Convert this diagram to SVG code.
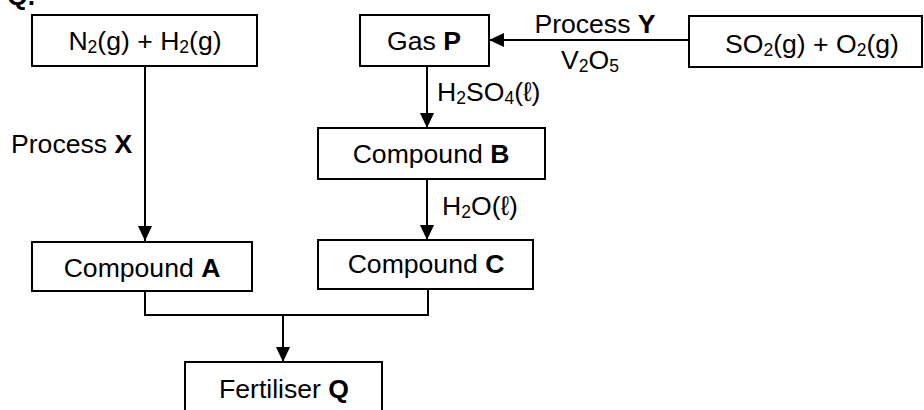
<svg xmlns="http://www.w3.org/2000/svg" width="924" height="410" viewBox="0 0 924 410">
<style>
.box{fill:#fff;stroke:#000;stroke-width:2}
.t{font-family:"Liberation Sans",Arial,"DejaVu Sans",sans-serif;font-size:26.6px;fill:#000}
.c{text-anchor:middle}
.b{font-weight:bold}
.s{font-size:17.5px}
.ln{fill:none;stroke:#000;stroke-width:2}
</style>
<defs>
<marker id="ah" viewBox="0 0 15 14" refX="15" refY="7" markerWidth="15" markerHeight="14" markerUnits="userSpaceOnUse" orient="auto">
<path d="M0,0 L15,7 L0,14 Z" fill="#000"/>
</marker>
</defs>
<rect width="924" height="410" fill="#fff"/>
<text class="t b" x="7" y="5">Q.</text>
<g id="connectors">
<line class="ln" x1="145" y1="66" x2="145" y2="241" marker-end="url(#ah)"/>
<line class="ln" x1="689" y1="40" x2="489" y2="40" marker-end="url(#ah)"/>
<line class="ln" x1="427" y1="66" x2="427" y2="128" marker-end="url(#ah)"/>
<line class="ln" x1="427" y1="179" x2="427" y2="240" marker-end="url(#ah)"/>
<polyline class="ln" points="145,291 145,315 428,315 428,289"/>
<line class="ln" x1="283" y1="315" x2="283" y2="362" marker-end="url(#ah)"/>
<text class="t" x="11" y="153">Process <tspan class="b">X</tspan></text>
<text class="t c" x="595" y="33">Process <tspan class="b">Y</tspan></text>
<text class="t c" x="590" y="69">V<tspan class="s" dy="3">2</tspan><tspan dy="-3">O</tspan><tspan class="s" dy="3">5</tspan></text>
<text class="t" x="437" y="101">H<tspan class="s" dy="3">2</tspan><tspan dy="-3">SO</tspan><tspan class="s" dy="3">4</tspan><tspan dy="-3">(ℓ)</tspan></text>
<text class="t" x="442" y="215">H<tspan class="s" dy="3">2</tspan><tspan dy="-3">O(ℓ)</tspan></text>
</g>
<g id="n2h2">
<rect class="box" x="32" y="15" width="225" height="51"/>
<text class="t c" x="145" y="50">N<tspan class="s" dy="3">2</tspan><tspan dy="-3">(g) + H</tspan><tspan class="s" dy="3">2</tspan><tspan dy="-3">(g)</tspan></text>
</g>
<g id="gasP">
<rect class="box" x="360" y="15" width="129" height="51"/>
<text class="t c" x="424" y="50">Gas <tspan class="b">P</tspan></text>
</g>
<g id="so2o2">
<rect class="box" x="689" y="16" width="233" height="51"/>
<text class="t c" x="812" y="53">SO<tspan class="s" dy="3">2</tspan><tspan dy="-3">(g) + O</tspan><tspan class="s" dy="3">2</tspan><tspan dy="-3">(g)</tspan></text>
</g>
<g id="compoundB">
<rect class="box" x="318" y="128" width="227" height="51"/>
<text class="t c" x="431" y="163">Compound <tspan class="b">B</tspan></text>
</g>
<g id="compoundA">
<rect class="box" x="32" y="242" width="220" height="49"/>
<text class="t c" x="142" y="277">Compound <tspan class="b">A</tspan></text>
</g>
<g id="compoundC">
<rect class="box" x="318" y="240" width="215" height="49"/>
<text class="t c" x="426" y="273">Compound <tspan class="b">C</tspan></text>
</g>
<g id="fertiliserQ">
<rect class="box" x="185" y="362" width="197" height="60"/>
<text class="t c" x="284" y="398">Fertiliser <tspan class="b">Q</tspan></text>
</g>
</svg>
